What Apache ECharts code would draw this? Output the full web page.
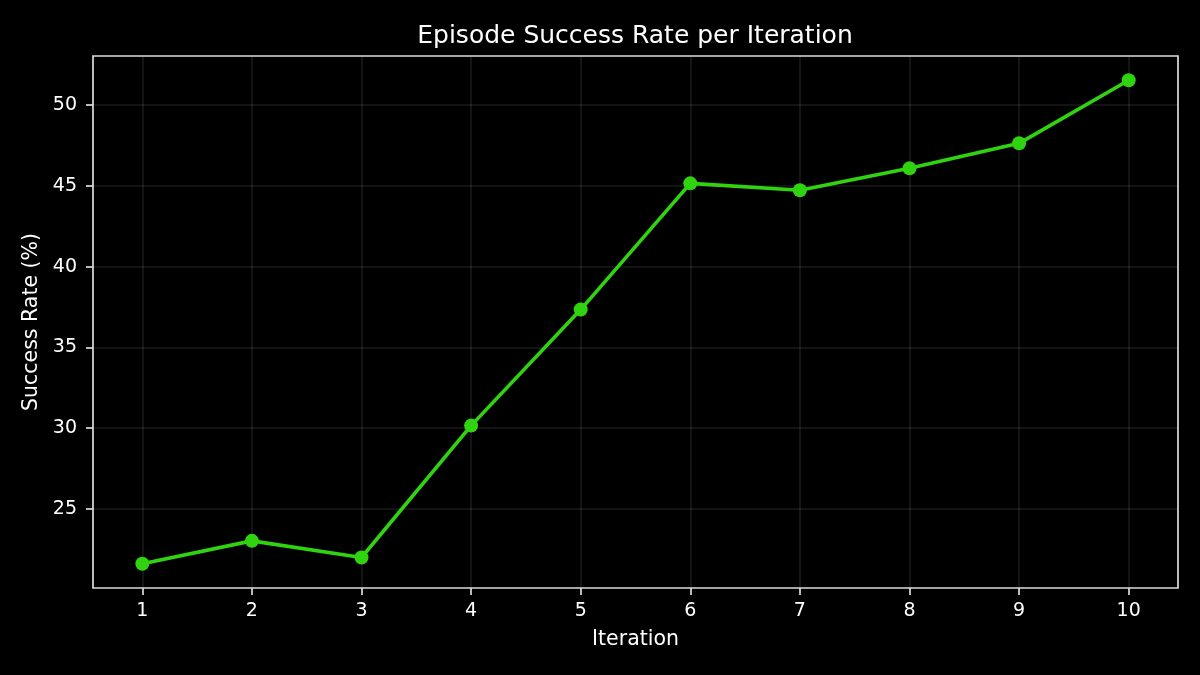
<!DOCTYPE html>
<html>
<head>
<meta charset="utf-8">
<script src="https://cdn.jsdelivr.net/npm/echarts@6/dist/echarts.min.js"></script>
<style>
html,body{margin:0;padding:0;background:#000;}
#chart{width:1200px;height:675px;}
</style>
</head>
<body>
<div id="chart"></div>
<script>
const iterations = [1, 2, 3, 4, 5, 6, 7, 8, 9, 10];
const successRate = [21.59, 23.01, 21.98, 30.15, 37.34, 45.16, 44.73, 46.09, 47.64, 51.55];
const xTicks = [1, 2, 3, 4, 5, 6, 7, 8, 9, 10];
const yTicks = [25, 30, 35, 40, 45, 50];

const font = 'DejaVu Sans';
const chart = echarts.init(document.getElementById('chart'), null, {renderer: 'canvas'});
chart.setOption({
  backgroundColor: '#000000',
  animation: false,
  title: {
    text: 'Episode Success Rate per Iteration',
    left: 630, top: 19, textAlign: 'center',
    textStyle: {color: '#ffffff', fontFamily: font, fontSize: 25, fontWeight: 'normal'}
  },
  grid: {
    left: 93, right: 22, top: 56, bottom: 87,
    show: true, borderColor: '#dcdcdc', borderWidth: 1.7, backgroundColor: 'transparent'
  },
  xAxis: {
    type: 'value', min: 0.55, max: 10.45,
    name: 'Iteration', nameLocation: 'middle', nameGap: 41,
    nameTextStyle: {color: '#ffffff', fontFamily: font, fontSize: 20.5},
    axisLine: {show: false},
    axisTick: {show: true, length: 7, customValues: xTicks, lineStyle: {color: '#dcdcdc', width: 1.7}},
    axisLabel: {customValues: xTicks, color: '#ffffff', fontFamily: font, fontSize: 19, margin: 14},
    splitLine: {show: true, lineStyle: {color: 'rgba(255,255,255,0.1)', width: 1.6}}
  },
  yAxis: {
    type: 'value', min: 20.09, max: 53.05,
    name: 'Success Rate (%)', nameLocation: 'middle', nameGap: 50, nameRotate: 90,
    nameTextStyle: {color: '#ffffff', fontFamily: font, fontSize: 20.5},
    axisLine: {show: false},
    axisTick: {show: true, length: 7, customValues: yTicks, lineStyle: {color: '#dcdcdc', width: 1.7}},
    axisLabel: {customValues: yTicks, color: '#ffffff', fontFamily: font, fontSize: 19, margin: 16},
    splitLine: {show: true, lineStyle: {color: 'rgba(255,255,255,0.1)', width: 1.6}}
  },
  series: [{
    type: 'line',
    data: iterations.map((x, i) => [x, successRate[i]]),
    symbol: 'circle', symbolSize: 14,
    lineStyle: {color: '#2fd30f', width: 3.6},
    itemStyle: {color: '#2fd30f'},
    z: 3
  }]
});
</script>
</body>
</html>
